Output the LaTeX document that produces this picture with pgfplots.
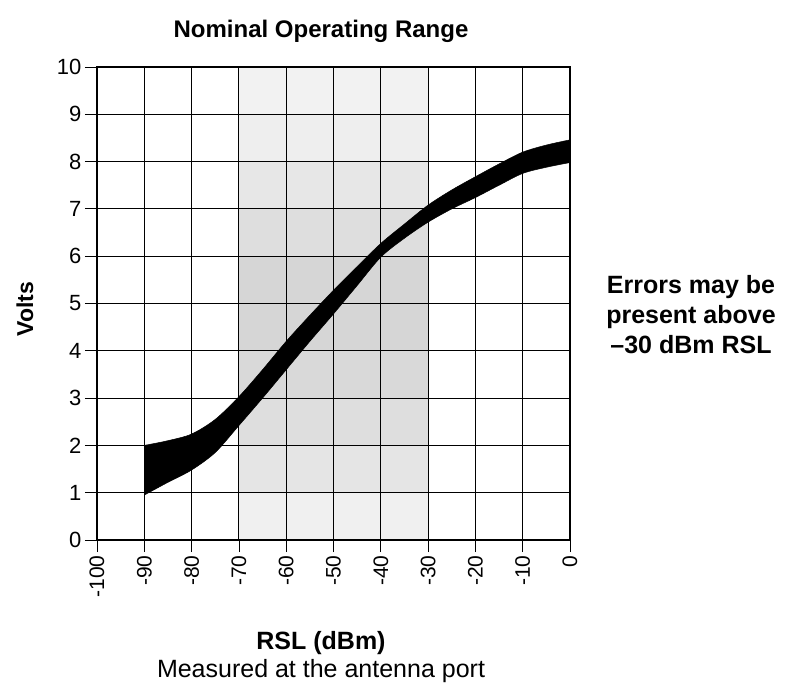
\documentclass[border=0pt]{standalone}
\usepackage{fontspec}
\setmainfont{Liberation Sans}
\usepackage{pgfplots}
\usepackage{pgfplotstable}
\pgfplotsset{compat=1.18}
\usepgfplotslibrary{fillbetween}

\pgfplotstableread{
x upper lower
-90 2.00 0.95
-85 2.10 1.22
-80 2.24 1.48
-75 2.55 1.85
-70 3.03 2.42
-65 3.60 3.00
-60 4.20 3.60
-55 4.75 4.20
-50 5.28 4.78
-45 5.78 5.38
-40 6.27 5.98
-35 6.68 6.38
-30 7.08 6.72
-25 7.40 7.00
-20 7.68 7.24
-15 7.95 7.50
-10 8.20 7.75
-5 8.35 7.88
0 8.46 7.98
}\band

\begin{document}
\begin{tikzpicture}
\begin{axis}[
  at={(0pt,0pt)}, anchor=south west,
  scale only axis, width=473pt, height=473pt,
  xmin=-100, xmax=0, ymin=0, ymax=10,
  xtick={-100,-90,...,0}, ytick={0,1,...,10},
  xticklabels={-100,-90,-80,-70,-60,-50,-40,-30,-20,-10,0},
  /pgf/number format/assume math mode=true,
  x tick label style={rotate=90, anchor=east, font=\fontsize{21}{23}\selectfont},
  y tick label style={font=\fontsize{22}{24}\selectfont},
  grid=major, major grid style={black, line width=1pt},
  axis line style={black, line width=1.5pt},
  tick align=outside, major tick length=12pt, tick pos=left,
  tick style={black, line width=0.8pt},
  axis on top,
  fill between/on layer=main,
]
\addplot[fill=gray!12, draw=none] coordinates {(-70,0) (-30,0) (-30,1) (-70,1)} -- cycle;
\addplot[fill=gray!20, draw=none] coordinates {(-70,1) (-30,1) (-30,2) (-70,2)} -- cycle;
\addplot[fill=gray!26, draw=none] coordinates {(-70,2) (-30,2) (-30,3) (-70,3)} -- cycle;
\addplot[fill=gray!30, draw=none] coordinates {(-70,3) (-30,3) (-30,4) (-70,4)} -- cycle;
\addplot[fill=gray!32, draw=none] coordinates {(-70,4) (-30,4) (-30,5) (-70,5)} -- cycle;
\addplot[fill=gray!32, draw=none] coordinates {(-70,5) (-30,5) (-30,6) (-70,6)} -- cycle;
\addplot[fill=gray!26, draw=none] coordinates {(-70,6) (-30,6) (-30,7) (-70,7)} -- cycle;
\addplot[fill=gray!19, draw=none] coordinates {(-70,7) (-30,7) (-30,8) (-70,8)} -- cycle;
\addplot[fill=gray!13, draw=none] coordinates {(-70,8) (-30,8) (-30,9) (-70,9)} -- cycle;
\addplot[fill=gray!10, draw=none] coordinates {(-70,9) (-30,9) (-30,10) (-70,10)} -- cycle;
\addplot[name path=up, black, line width=0.5pt, smooth] table[x=x, y=upper] {\band};
\addplot[name path=lo, black, line width=0.5pt, smooth] table[x=x, y=lower] {\band};
\addplot[black] fill between[of=up and lo];
\end{axis}
\node[font=\bfseries\fontsize{24}{28}\selectfont] at (224pt,509pt) {Nominal Operating Range};
\node[rotate=90, font=\bfseries\fontsize{23}{26}\selectfont] at (-72pt,231pt) {Volts};
\node[font=\bfseries\fontsize{25}{28}\selectfont] at (224pt,-103pt) {RSL (dBm)};
\node[font=\fontsize{25}{28}\selectfont] at (224pt,-131pt) {Measured at the antenna port};
\node[font=\bfseries\fontsize{25}{30}\selectfont, align=center] at (594pt,225pt) {Errors may be\\present above\\–30 dBm RSL};
\path (-97pt,-150pt) rectangle (694pt,540pt);
\end{tikzpicture}
\end{document}
